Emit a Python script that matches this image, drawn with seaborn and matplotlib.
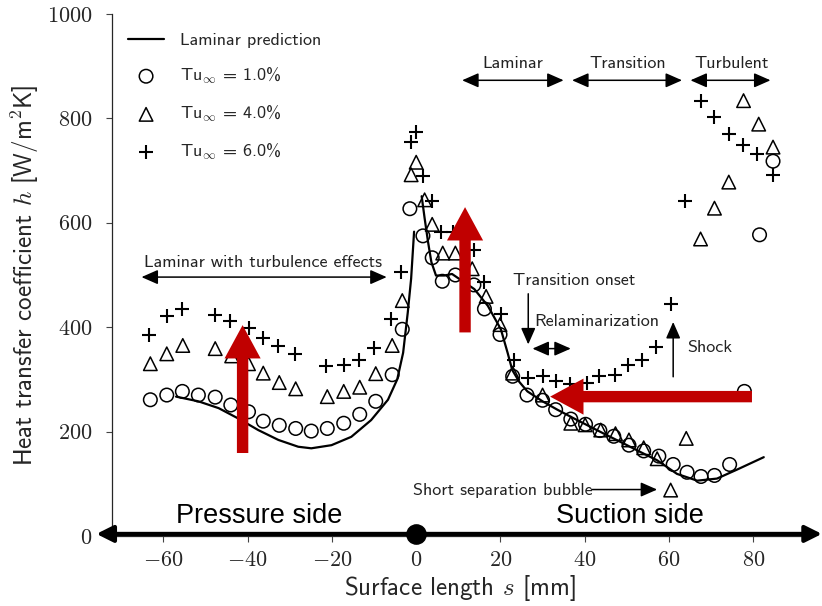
import matplotlib
matplotlib.use("Agg")
import matplotlib.pyplot as plt
import seaborn as sns
from matplotlib.ticker import FuncFormatter

# Measured heat transfer coefficient along the blade surface (s < 0: pressure side)
s_tu1 = [-63.1, -59.2, -55.5, -51.7, -47.7, -44.0, -39.8, -36.3, -32.5, -28.6, -24.9,
         -21.1, -17.2, -13.4, -9.6, -5.7, -3.3, -1.5, 1.6, 3.8, 6.2, 9.3, 13.7, 16.2,
         19.9, 22.9, 26.3, 30.0, 33.1, 36.7, 40.2, 43.6, 46.9, 50.5, 54.0, 57.6, 61.0,
         64.3, 67.6, 70.8, 74.4, 77.9, 81.5, 84.7]
h_tu1 = [261, 270, 277, 270, 266, 251, 238, 220, 212, 206, 201, 206, 216, 233, 258, 309,
         396, 627, 575, 533, 488, 500, 481, 435, 386, 306, 270, 260, 242, 224, 214, 202,
         191, 174, 163, 153, 137, 122, 114, 116, 137, 277, 577, 718]

s_tu4 = [-63.1, -59.2, -55.4, -47.7, -43.8, -39.8, -36.3, -32.5, -28.6, -21.1, -17.2,
         -13.4, -9.6, -5.7, -3.3, -1.2, 0.0, 2.0, 3.8, 6.3, 9.3, 13.3, 16.6, 19.9, 22.9,
         30.0, 36.7, 40.1, 43.8, 47.3, 50.5, 54.0, 57.2, 60.4, 64.1, 67.5, 70.8, 74.2,
         77.7, 81.3, 84.7]
h_tu4 = [330, 349, 365, 359, 345, 330, 312, 294, 282, 267, 277, 285, 311, 365, 451, 692,
         716, 644, 597, 542, 542, 512, 459, 405, 312, 270, 216, 213, 203, 196, 184, 169,
         148, 88, 187, 569, 628, 678, 834, 789, 745]

s_tu6 = [-63.3, -59.2, -55.6, -47.7, -44.2, -39.8, -36.3, -32.7, -28.8, -21.3, -17.2,
         -13.6, -9.9, -5.9, -3.6, -1.2, 0.0, 1.6, 3.7, 5.9, 8.7, 13.7, 16.2, 20.1, 23.1,
         26.6, 30.0, 33.1, 36.5, 40.6, 43.4, 47.1, 50.3, 53.6, 56.9, 60.4, 63.9, 67.5,
         70.8, 74.2, 77.6, 81.0, 84.7]
h_tu6 = [385, 421, 435, 423, 412, 399, 380, 364, 348, 325, 328, 338, 361, 415, 506, 754,
         773, 689, 642, 583, 583, 548, 486, 425, 338, 303, 306, 296, 292, 293, 306, 309,
         327, 338, 363, 444, 642, 833, 802, 771, 749, 732, 692]

# Laminar boundary-layer prediction, drawn separately for each side
lam_ps_s = [-57.0, -51.7, -46.9, -42.2, -37.5, -32.7, -28.0, -24.9, -20.1, -15.4, -10.7,
            -6.7, -4.5, -3.1, -2.0, -1.2, -0.5]
lam_ps_h = [267, 258, 245, 225, 203, 184, 171, 168, 174, 190, 222, 261, 300, 351, 428,
            493, 583]
lam_ss_s = [1.3, 2.0, 2.8, 3.6, 4.7, 6.7, 8.5, 13.8, 17.0, 20.1, 21.7, 22.8, 24.5, 26.4,
            30.0, 33.5, 37.5, 41.4, 45.3, 49.3, 53.2, 57.2, 61.9, 66.7, 71.4, 76.1, 82.5]
lam_ss_h = [651, 609, 564, 525, 499, 499, 502, 473, 441, 396, 351, 318, 295, 277, 258,
            242, 225, 209, 193, 177, 161, 145, 119, 106, 110, 127, 151]

legend_labels = ["Laminar prediction", r"Tu$_\infty$ = 1.0%", r"Tu$_\infty$ = 4.0%",
                 r"Tu$_\infty$ = 6.0%"]
x_ticks = [-60, -40, -20, 0, 20, 40, 60, 80]
y_ticks = [0, 200, 400, 600, 800, 1000]
stagnation_s = [0.0]
stagnation_h = [4.0]

sns.set_style("ticks")
plt.rcParams["font.family"] = ["cmss10", "DejaVu Sans"]
plt.rcParams["mathtext.fontset"] = "cm"
plt.rcParams["axes.unicode_minus"] = False

fig = plt.figure(figsize=(8.22, 6.06), dpi=100)
ax = fig.add_axes([112 / 822, 70 / 606, (808 - 112) / 822, 522 / 606])

sns.lineplot(x=lam_ps_s, y=lam_ps_h, color="k", lw=1.6, sort=False,
             label=legend_labels[0], ax=ax)
sns.lineplot(x=lam_ss_s, y=lam_ss_h, color="k", lw=1.6, sort=False,
             label="_nolegend_", ax=ax)
sns.scatterplot(x=s_tu1, y=h_tu1, marker="o", s=95, color="k", facecolor="none",
                edgecolor="k", linewidth=1.1, label=legend_labels[1], ax=ax, zorder=3)
sns.scatterplot(x=s_tu4, y=h_tu4, marker="^", s=95, color="k", facecolor="none",
                edgecolor="k", linewidth=1.1, label=legend_labels[2], ax=ax, zorder=3)
sns.scatterplot(x=s_tu6, y=h_tu6, marker="+", s=110, color="k", edgecolor="k",
                linewidth=1.5, label=legend_labels[3], ax=ax, zorder=3)

ax.set_xlim(-72.2, 93)
ax.set_ylim(0, 1000)
ax.set_xticks(x_ticks)
ax.set_yticks(y_ticks)
ax.xaxis.set_major_formatter(FuncFormatter(lambda v, p: rf"${v:g}$"))
ax.yaxis.set_major_formatter(FuncFormatter(lambda v, p: rf"${v:g}$"))
ax.tick_params(axis="both", direction="out", length=4, width=0.8, labelsize=16,
               color="#444444")
ax.tick_params(axis="x", pad=7)
ax.tick_params(axis="y", pad=10)
sns.despine(ax=ax)
for side in ("left", "bottom"):
    ax.spines[side].set_linewidth(0.9)

ax.set_xlabel(r"Surface length $s$ [mm]", fontsize=18, labelpad=2)
ax.set_ylabel(r"Heat transfer coefficient $h$ [W/m$^2$K]", fontsize=18, labelpad=4)

ax.legend(loc="upper left", bbox_to_anchor=(0.023, 0.965), frameon=False, fontsize=13,
          labelspacing=1.0, handlelength=2.0, handletextpad=0.9, borderpad=0,
          borderaxespad=0)

# Flow-regime annotations
def span_arrow(x0, x1, y, style="<|-|>", hl=0.5, hw=0.22, lw=1.1, ms=20):
    ax.annotate("", xy=(x1, y), xytext=(x0, y) if isinstance(y, (int, float)) else y,
                arrowprops=dict(arrowstyle=f"{style},head_length={hl},head_width={hw}",
                                color="k", lw=lw, shrinkA=0, shrinkB=0,
                                mutation_scale=ms),
                annotation_clip=False)

def arrow(p0, p1, style="-|>", hl=0.5, hw=0.22, lw=1.1, ms=20):
    ax.annotate("", xy=p1, xytext=p0,
                arrowprops=dict(arrowstyle=f"{style},head_length={hl},head_width={hw}",
                                color="k", lw=lw, shrinkA=0, shrinkB=0,
                                mutation_scale=ms),
                annotation_clip=False)

txt = dict(fontsize=13, color="#222222")
ax.text(-36.3, 524, "Laminar with turbulence effects", ha="center", va="center", **txt)
arrow((-65.2, 496), (-7.0, 496), style="<|-|>")
ax.text(23.0, 905, "Laminar", ha="center", va="center", **txt)
arrow((10.9, 873), (35.0, 873), style="<|-|>")
ax.text(50.1, 905, "Transition", ha="center", va="center", **txt)
arrow((37.0, 873), (63.1, 873), style="<|-|>")
ax.text(74.8, 905, "Turbulent", ha="center", va="center", **txt)
arrow((65.1, 873), (84.1, 873), style="<|-|>")
ax.text(37.6, 489, "Transition onset", ha="center", va="center", **txt)
arrow((26.6, 464), (26.6, 367))
ax.text(42.8, 411, "Relaminarization", ha="center", va="center", **txt)
arrow((27.6, 359), (36.7, 359), style="<|-|>")
ax.text(64.3, 361, "Shock", ha="left", va="center", **txt)
arrow((61.0, 305), (61.0, 410))
ax.text(41.8, 88, "Short separation bubble", ha="right", va="center", **txt)
arrow((41.8, 89), (57.2, 89))

# Surface coordinate axis with stagnation point
arrow((-75.9, 4), (96.3, 4), style="<|-|>", hl=0.5, hw=0.25, lw=3.0, ms=20)
sns.scatterplot(x=stagnation_s, y=stagnation_h, s=190, color="k", edgecolor="k",
                ax=ax, zorder=6, clip_on=False, legend=False)
side_font = dict(fontsize=19.5, family="Liberation Sans", color="k")
ax.text(-37.2, 39, "Pressure side", ha="center", va="center", **side_font)
ax.text(50.7, 39, "Suction side", ha="center", va="center", **side_font)

# Highlight arrows
red = "#C00000"
def red_arrow(p0, p1):
    ax.annotate("", xy=p1, xytext=p0,
                arrowprops=dict(arrowstyle="simple,head_length=2.4,head_width=2.6,tail_width=0.82",
                                color=red, lw=0, shrinkA=0, shrinkB=0, mutation_scale=10),
                zorder=8)

red_arrow((-41.2, 159), (-41.2, 404))
red_arrow((11.6, 390), (11.6, 630))
red_arrow((79.7, 267), (31.8, 267))

fig.savefig("out.png", dpi=100)
